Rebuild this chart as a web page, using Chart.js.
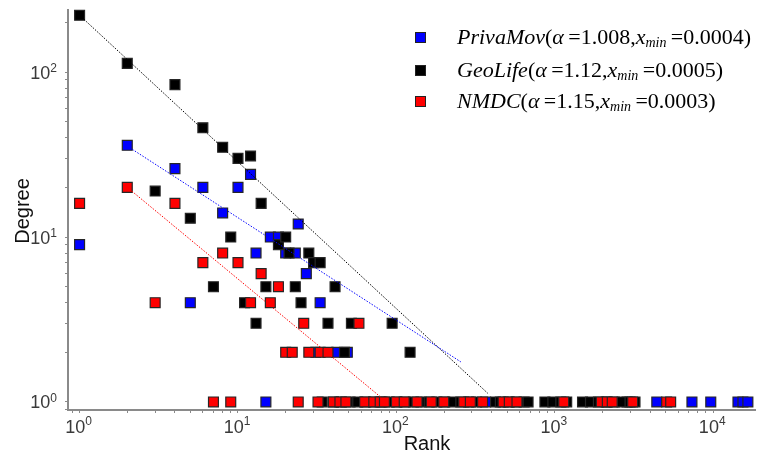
<!DOCTYPE html>
<html>
<head>
<meta charset="utf-8">
<script src="https://cdn.jsdelivr.net/npm/chart.js@4.4.1/dist/chart.umd.min.js"></script>
<style>
html,body{margin:0;padding:0;background:#fff;}
#wrap{position:relative;width:764px;height:454px;overflow:hidden;}
#c{position:absolute;left:0;top:0;}
.lrow{position:absolute;left:0;height:32px;line-height:32px;white-space:nowrap;font-family:"Liberation Serif","Times New Roman",serif;font-size:22px;color:#000;}
.sw{position:absolute;left:415px;width:9px;height:9px;border:1px solid #222;}
.lt{position:absolute;left:457px;}
.lt sub{font-size:14px;position:relative;top:3px;vertical-align:baseline;}
</style>
</head>
<body>
<div id="wrap">
<canvas id="c" width="764" height="454"></canvas>
<div id="legend"></div>
</div>
<script>
// ---------- data ----------
const seriesNames = ["PrivaMov", "GeoLife", "NMDC"];
const seriesAlpha = ["1.008", "1.12", "1.15"];
const seriesXmin = ["0.0004", "0.0005", "0.0003"];
const seriesColors = ["#0000ff", "#000000", "#ff0000"];

const privaRank   = [1, 2, 4, 5, 6, 8, 10, 12, 13, 15, 16, 18, 20, 23, 24, 27, 31, 33, 42, 49, 366, 2860, 4404, 7340, 9650, 14330, 15400, 16550];
const privaDegree = [9, 36, 26, 4, 20, 14, 20, 24, 8, 1, 10, 10, 8, 8, 12, 6, 2, 4, 2, 2, 1, 1, 1, 1, 1, 1, 1, 1];

const geoRank   = [1, 2, 3, 4, 5, 6, 7, 8, 9, 10, 11, 12, 13, 14, 15, 18, 20, 21, 23, 25, 28, 30, 33, 34, 37, 41, 47, 52, 94, 122,
                   40, 45, 51, 57, 64, 72, 81, 90, 101, 114, 128, 143, 161, 180, 202, 227, 255, 286, 321, 422, 453, 508, 570, 640, 678,
                   866, 972, 1091, 1189, 1496, 1679, 1884, 2113, 2371, 2661, 2985, 3208];
const geoDegree = [221, 113, 19, 84, 13, 46, 5, 35, 10, 30, 4, 31, 3, 16, 5, 9, 10, 8, 5, 4, 8, 7, 7, 1, 3, 5, 2, 3, 3, 2,
                   1, 1, 1, 1, 1, 1, 1, 1, 1, 1, 1, 1, 1, 1, 1, 1, 1, 1, 1, 1, 1, 1, 1, 1, 1,
                   1, 1, 1, 1, 1, 1, 1, 1, 1, 1, 1, 1];

const nmdcRank   = [1, 2, 3, 4, 6, 7, 8, 9, 10, 12, 14, 16, 18, 20, 22, 24, 26, 28, 32, 33, 37, 58,
                    40, 44, 48, 63, 72, 79, 84, 100, 112, 135, 166, 199, 266, 293, 350, 472, 516, 577, 1138, 1967, 2145, 2304, 3100, 5082, 5387];
const nmdcDegree = [16, 20, 4, 16, 7, 1, 8, 1, 7, 4, 6, 4, 5, 2, 2, 1, 3, 2, 1, 2, 2, 3,
                    1, 1, 1, 1, 1, 1, 1, 1, 1, 1, 1, 1, 1, 1, 1, 1, 1, 1, 1, 1, 1, 1, 1, 1, 1];

// fitted power-law lines: [start, end] points
const privaFitRank = [2, 255];      const privaFitDegree = [35.6, 1.75];
const geoFitRank   = [1, 377];      const geoFitDegree   = [221, 1.13];
const nmdcFitRank  = [2, 80.6];     const nmdcFitDegree  = [20, 1.06];

const xTickExponents = [0, 1, 2, 3, 4];
const yTickExponents = [0, 1, 2];
const xTitle = "Rank";
const yTitle = "Degree";

// ---------- build ----------
const pts = (xs, ys) => xs.map((x, i) => ({x: x, y: ys[i]}));

function pointSet(label, xs, ys, color, order) {
  return {
    label, data: pts(xs, ys), order,
    backgroundColor: color, borderColor: "#262626", borderWidth: 1.2,
    pointStyle: "rect", pointRadius: 7, pointHoverRadius: 7, clip: false
  };
}
function lineSet(xs, ys, color) {
  return {
    label: "fit", data: pts(xs, ys), order: 0, showLine: true,
    borderColor: color, borderWidth: 1, borderDash: [1.5, 1.5],
    pointRadius: 0, fill: false
  };
}

function logTicks(min, max) {
  const out = [];
  for (let k = -1; k <= 5; k++) {
    for (let m = 1; m <= 9; m++) {
      const v = m * Math.pow(10, k);
      if (v >= min && v <= max) out.push({value: v});
    }
  }
  return out;
}

const textPlugin = {
  id: "textPlugin",
  afterDraw(chart) {
    const ctx = chart.ctx, xs = chart.scales.x, ys = chart.scales.y;
    const big = '18px "Liberation Sans", Arial, sans-serif';
    const small = '12px "Liberation Sans", Arial, sans-serif';
    ctx.save();
    ctx.fillStyle = "#3a3a3a";
    ctx.textAlign = "left";
    ctx.textBaseline = "alphabetic";
    xTickExponents.forEach(e => {
      const px = xs.getPixelForValue(Math.pow(10, e));
      ctx.font = big; const w1 = ctx.measureText("10").width;
      ctx.font = small; const w2 = ctx.measureText(String(e)).width;
      const start = px - (w1 + w2) / 2 - 1;
      ctx.font = big; ctx.fillText("10", start, 433);
      ctx.font = small; ctx.fillText(String(e), start + w1, 425);
    });
    yTickExponents.forEach(e => {
      const py = ys.getPixelForValue(Math.pow(10, e));
      ctx.font = big; const w1 = ctx.measureText("10").width;
      ctx.font = small; const w2 = ctx.measureText(String(e)).width;
      const start = 57 - (w1 + w2);
      ctx.font = big; ctx.fillText("10", start, py + 6.5);
      ctx.font = small; ctx.fillText(String(e), start + w1, py);
    });
    ctx.fillStyle = "#111";
    ctx.font = '20px "Liberation Sans", Arial, sans-serif';
    ctx.textAlign = "center";
    ctx.fillText(xTitle, 427, 450);
    ctx.translate(29, 211);
    ctx.rotate(-Math.PI / 2);
    ctx.fillText(yTitle, 0, 0);
    ctx.restore();
  }
};

const axisCommon = {
  type: "logarithmic",
  bounds: "data",
  ticks: {display: false},
  grid: {display: true, drawOnChartArea: false, drawTicks: true, tickLength: 3, color: "#8a8a8a", tickColor: "#8a8a8a", lineWidth: 1},
  border: {display: true, color: "#8a8a8a", width: 2}
};

new Chart(document.getElementById("c"), {
  type: "scatter",
  data: {
    datasets: [
      lineSet(privaFitRank, privaFitDegree, seriesColors[0]),
      lineSet(geoFitRank, geoFitDegree, seriesColors[1]),
      lineSet(nmdcFitRank, nmdcFitDegree, seriesColors[2]),
      pointSet(seriesNames[0], privaRank, privaDegree, seriesColors[0], 3),
      pointSet(seriesNames[1], geoRank, geoDegree, seriesColors[1], 2),
      pointSet(seriesNames[2], nmdcRank, nmdcDegree, seriesColors[2], 1)
    ]
  },
  options: {
    responsive: false,
    animation: false,
    events: [],
    layout: {padding: {top: 10, right: 1, left: 0, bottom: 0}},
    plugins: {legend: {display: false}, tooltip: {enabled: false}},
    scales: {
      x: Object.assign({}, axisCommon, {
        position: "bottom", min: 0.845, max: 18570,
        afterFit: s => { s.height = 44; },
        afterBuildTicks: s => { s.ticks = logTicks(s.min, s.max); }
      }),
      y: Object.assign({}, axisCommon, {
        position: "left", min: 0.894, max: 238,
        afterFit: s => { s.width = 68; },
        afterBuildTicks: s => { s.ticks = logTicks(s.min, s.max); }
      })
    }
  },
  plugins: [textPlugin]
});

// ---------- legend ----------
const legendTops = [21, 54, 85];
const lg = document.getElementById("legend");
seriesNames.forEach((name, i) => {
  const row = document.createElement("div");
  row.className = "lrow";
  row.style.top = legendTops[i] + "px";
  row.style.width = "764px";
  row.innerHTML =
    '<span class="sw" style="top:11px;background:' + seriesColors[i] + '"></span>' +
    '<span class="lt"><i>' + name + '</i>(<i>α</i>\u2009=' + seriesAlpha[i] +
    ',<i>x</i><sub><i>min</i></sub>\u2009=' + seriesXmin[i] + ')</span>';
  lg.appendChild(row);
});
</script>
</body>
</html>
